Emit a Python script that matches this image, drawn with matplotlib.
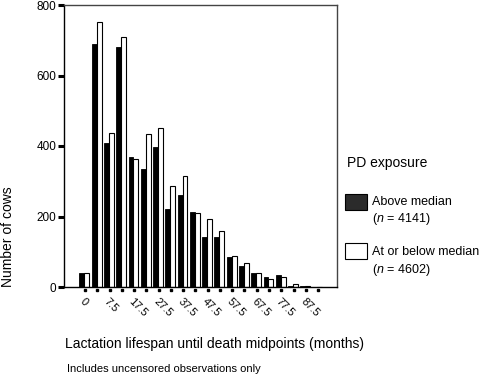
import numpy as np
import matplotlib
matplotlib.use('Agg')
import matplotlib.pyplot as plt
import matplotlib.patches as mpatches
from matplotlib.transforms import blended_transform_factory

plt.rcParams['font.family'] = ['Liberation Sans', 'DejaVu Sans']
plt.rcParams['mathtext.fontset'] = 'custom'
plt.rcParams['mathtext.rm'] = 'Liberation Sans'
plt.rcParams['mathtext.it'] = 'Liberation Sans:italic'

# lactation lifespan midpoints (months)
midpoints = [0, 2.5, 7.5, 12.5, 17.5, 22.5, 27.5, 32.5, 37.5, 42.5,
             47.5, 52.5, 57.5, 62.5, 67.5, 72.5, 77.5, 82.5, 87.5, 92.5]
above_median = [41, 690, 408, 682, 370, 335, 398, 221, 260, 213,
                143, 143, 84, 60, 39, 28, 33, 3, 3, 0]
below_median = [40, 753, 436, 709, 362, 435, 450, 286, 316, 209,
                194, 160, 88, 67, 41, 24, 29, 8, 3, 0]
y_ticks = [0, 200, 400, 600, 800]

W, H = 480, 379
fig = plt.figure(figsize=(W / 100, H / 100), dpi=100)
fig.patch.set_facecolor('white')

ax = fig.add_axes([64 / W, 1 - 287 / H, 273 / W, 282 / H])

idx = np.arange(len(midpoints))
bw = 0.4
ax.bar(idx - bw / 2 - 0.05, above_median, width=bw, color='black',
       edgecolor='black', linewidth=0.6, zorder=2)
ax.bar(idx + bw / 2 - 0.05, below_median, width=bw, color='white',
       edgecolor='black', linewidth=0.8, zorder=2)

ax.set_xlim(-1.71, 20.54)
ax.set_ylim(0, 800)

for side in ['left', 'bottom']:
    ax.spines[side].set_color('black')
    ax.spines[side].set_linewidth(1.0)
for side in ['top', 'right']:
    ax.spines[side].set_color('#444444')
    ax.spines[side].set_linewidth(1.0)

ax.set_yticks(y_ticks)
ax.set_yticklabels([str(v) for v in y_ticks], fontsize=8.5)
ax.tick_params(axis='y', length=4, width=2.2, pad=1.5, direction='out')

# tick dots under each category
trans = blended_transform_factory(ax.transData, ax.transAxes)
ax.plot(idx, np.full(len(idx), -0.012), 's', color='black', markersize=1.5,
        transform=trans, clip_on=False, zorder=3)

ax.set_xticks(idx[::2])
ax.set_xticklabels([f'{m:g}' for m in midpoints[::2]], fontsize=8,
                   rotation=-45, ha='left', va='top', rotation_mode='anchor')
ax.tick_params(axis='x', length=0, pad=7)

fig.text(8 / W, 1 - 237 / H, 'Number of cows', rotation=90, fontsize=10,
         ha='center', va='center')
fig.text(65 / W, 1 - 344 / H, 'Lactation lifespan until death midpoints (months)',
         fontsize=10, ha='left', va='center')
fig.text(67 / W, 1 - 369 / H, 'Includes uncensored observations only',
         fontsize=8, ha='left', va='center')

# legend
fig.text(347 / W, 1 - 163 / H, 'PD exposure', fontsize=10, ha='left', va='center')
fig.patches.append(mpatches.Rectangle((345 / W, 1 - 210 / H), 22 / W, 16 / H,
                                      facecolor='#2b2b2b', edgecolor='black',
                                      linewidth=0.8, transform=fig.transFigure))
fig.text(372 / W, 1 - 202 / H, 'Above median', fontsize=9, ha='left', va='center')
fig.text(372 / W, 1 - 219 / H, '($n$ = 4141)', fontsize=9, ha='left', va='center')
fig.patches.append(mpatches.Rectangle((345 / W, 1 - 259 / H), 22 / W, 16 / H,
                                      facecolor='white', edgecolor='black',
                                      linewidth=0.8, transform=fig.transFigure))
fig.text(372 / W, 1 - 252 / H, 'At or below median', fontsize=9, ha='left', va='center')
fig.text(372 / W, 1 - 270 / H, '($n$ = 4602)', fontsize=9, ha='left', va='center')

fig.savefig('out.png', dpi=100, facecolor='white')
